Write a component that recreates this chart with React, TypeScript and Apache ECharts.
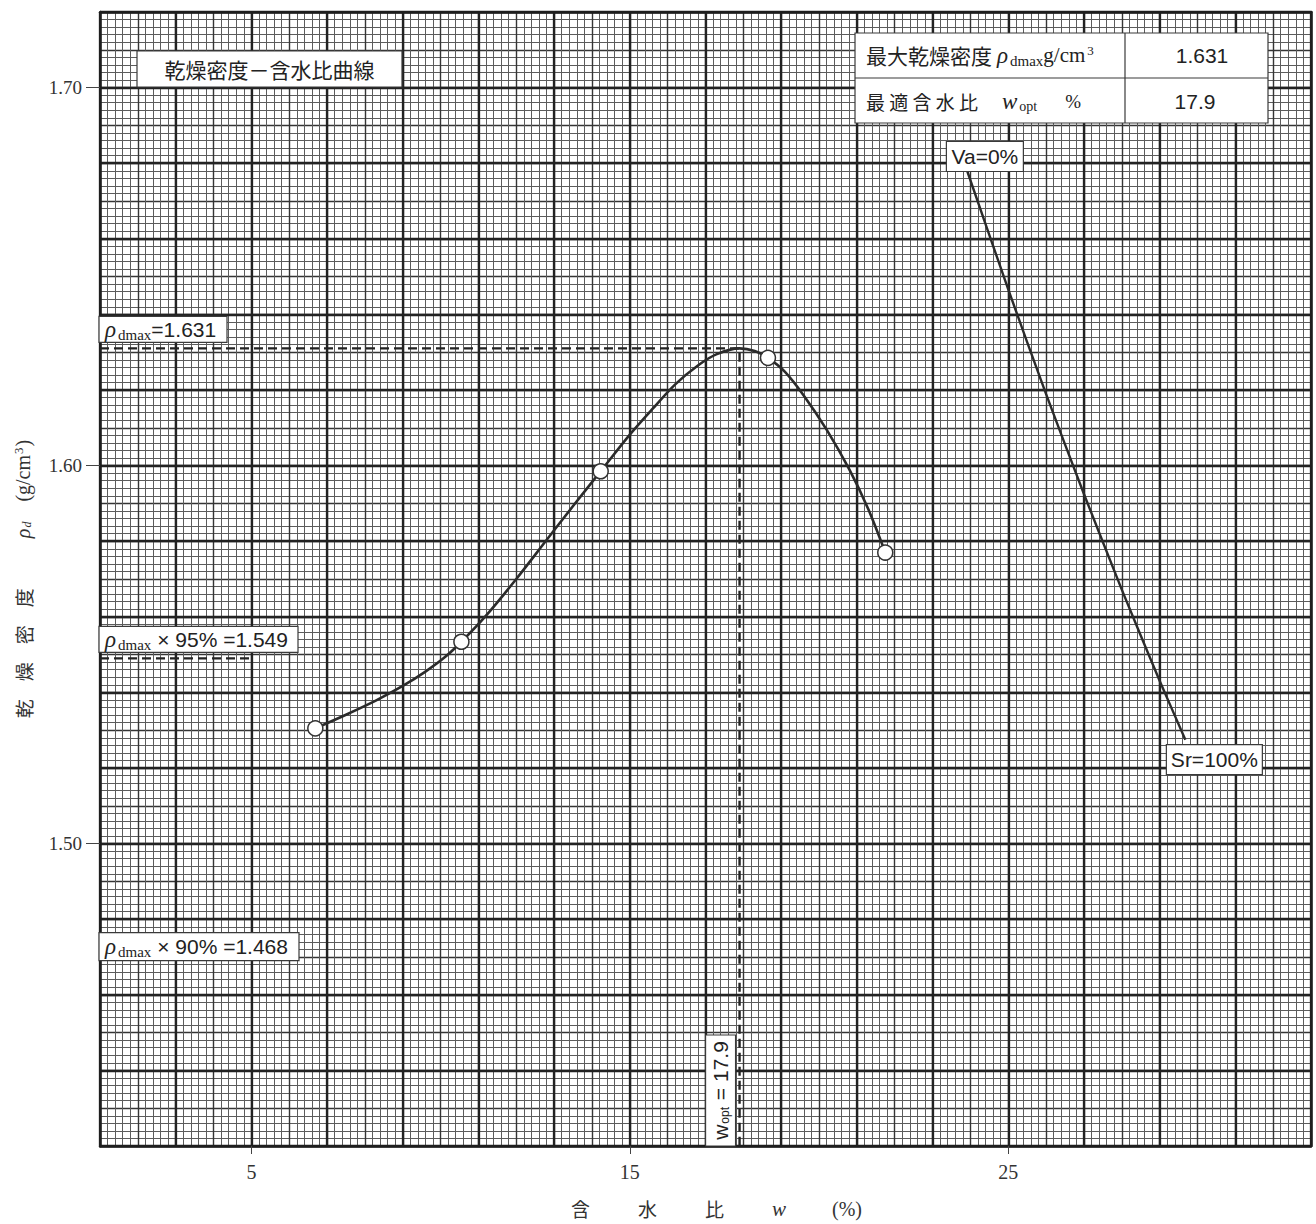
import React, { useEffect, useRef } from 'react';
import * as echarts from 'echarts';

// ---- axis ranges & tick labels ----
const W_MIN = 1;
const W_MAX = 33;
const RHO_MIN = 1.42;
const RHO_MAX = 1.72;
const xTickLabels = [5, 15, 25];
const yTickLabels = [1.5, 1.6, 1.7];

// ---- measured test points (water content %, dry density g/cm3) ----
const testW = [6.69, 10.55, 14.23, 18.65, 21.75];
const testRho = [1.5305, 1.5534, 1.5985, 1.6285, 1.577];

// ---- fitted compaction curve ----
const curveW = [6.69, 7.5, 8.3, 9.0, 9.6, 10.1, 10.55, 11.2, 12.0, 12.8, 13.5, 14.23, 15.0, 15.6, 16.2, 16.8, 17.3, 17.9, 18.3, 18.65, 19.1, 19.6, 20.2, 20.8, 21.3, 21.75];
const curveRho = [1.5305, 1.5341, 1.5379, 1.5417, 1.5455, 1.5492, 1.5534, 1.5603, 1.57, 1.5803, 1.5893, 1.5985, 1.6082, 1.615, 1.6215, 1.6265, 1.6295, 1.631, 1.6303, 1.6285, 1.6248, 1.6185, 1.6095, 1.599, 1.5885, 1.577];

// ---- zero air voids curve (Va=0%, Sr=100%) ----
const zavW = [23.92, 25.0, 26.0, 27.0, 28.0, 29.0, 29.68];
const zavRho = [1.6778, 1.6466, 1.6189, 1.5925, 1.5672, 1.5431, 1.5275];

// ---- results ----
const rhoDmax = 1.631;
const wOpt = 17.9;
const rho95 = 1.549;
const rho90 = 1.468;
const rho95LineEndW = 5;

const SERIF = '"Liberation Serif", "DejaVu Serif", serif';
const SANS = '"Liberation Sans", Arial, sans-serif';
const CJK = '"Noto Sans CJK JP", "Noto Sans CJK SC", sans-serif';

const MINOR = { color: '#5c5c5c', width: 1 };
const MEDIUM = { color: '#353535', width: 1.4 };
const THICK = { color: '#222222', width: 2.3 };
const INK = '#2b2b2b';

function gridAxis(min: number, max: number, interval: number, position: string, style: any, minor: boolean, showLine: boolean, z: number) {
  return {
    type: 'value',
    min,
    max,
    interval,
    position,
    z,
    axisLine: { show: showLine, onZero: false, lineStyle: { color: '#1e1e1e', width: 2.5 } },
    axisTick: { show: false },
    axisLabel: { show: false },
    splitLine: { show: true, lineStyle: { color: style.color, width: style.width } },
    minorTick: { show: false, splitNumber: 5 },
    minorSplitLine: { show: minor, lineStyle: { color: MINOR.color, width: MINOR.width } },
  };
}

function buildOption() {
  const xName = '{a|含}{c|水}{c|比}{w|w}{t|(%)}';
  const yName = '{c|乾}{c|燥}{c|密}{d|度}{r|ρ}{sub|d}{t|(g/cm}{sup|3}{t|)}';
  return {
    animation: false,
    backgroundColor: '#ffffff',
    textStyle: { fontFamily: SERIF },
    grid: { left: 100, top: 12, width: 1211, height: 1134, containLabel: false },
    xAxis: [
      {
        type: 'value',
        min: W_MIN,
        max: W_MAX,
        position: 'bottom',
        z: 3,
        axisLine: { show: true, onZero: false, lineStyle: { color: '#1e1e1e', width: 2.5 } },
        axisTick: { show: true, customValues: xTickLabels, length: 8, lineStyle: { color: '#444', width: 1 } },
        axisLabel: { show: true, customValues: xTickLabels, margin: 16, fontFamily: SERIF, fontSize: 20, color: '#333', formatter: (v: number) => String(v) },
        splitLine: { show: false },
        name: xName,
        nameLocation: 'middle',
        nameGap: 52,
        nameTextStyle: {
          color: '#333',
          rich: {
            a: { fontFamily: CJK, fontSize: 19, color: '#333', padding: [0, 48, 0, 22] },
            c: { fontFamily: CJK, fontSize: 19, color: '#333', padding: [0, 48, 0, 0] },
            w: { fontFamily: SERIF, fontStyle: 'italic', fontSize: 21, color: '#333', padding: [0, 46, 0, 0] },
            t: { fontFamily: SERIF, fontSize: 20, color: '#333' },
          },
        },
      },
      gridAxis(W_MIN, W_MAX, 1, 'bottom', MEDIUM, true, false, 0),
      gridAxis(W_MIN, W_MAX, 2, 'top', THICK, false, true, 1),
    ],
    yAxis: [
      {
        type: 'value',
        min: RHO_MIN,
        max: RHO_MAX,
        position: 'left',
        z: 3,
        axisLine: { show: true, onZero: false, lineStyle: { color: '#1e1e1e', width: 2.5 } },
        axisTick: { show: true, customValues: yTickLabels, length: 14, lineStyle: { color: '#444', width: 1 } },
        axisLabel: { show: true, customValues: yTickLabels, margin: 18, fontFamily: SERIF, fontSize: 19, color: '#333', formatter: (v: number) => v.toFixed(2) },
        splitLine: { show: false },
        name: yName,
        nameLocation: 'middle',
        nameGap: 66,
        nameRotate: 90,
        nameTextStyle: {
          color: '#333',
          rich: {
            c: { fontFamily: CJK, fontSize: 19, color: '#333', padding: [0, 18, 0, 0] },
            d: { fontFamily: CJK, fontSize: 19, color: '#333', padding: [0, 50, 0, 0] },
            r: { fontFamily: SERIF, fontStyle: 'italic', fontSize: 20, color: '#333' },
            sub: { fontFamily: SERIF, fontStyle: 'italic', fontSize: 12, color: '#333', padding: [8, 20, 0, 1] },
            t: { fontFamily: SERIF, fontSize: 20, color: '#333' },
            sup: { fontFamily: SERIF, fontSize: 13, color: '#333', padding: [0, 1, 9, 1] },
          },
        },
      },
      gridAxis(RHO_MIN, RHO_MAX, 0.01, 'left', MEDIUM, true, false, 0),
      gridAxis(RHO_MIN, RHO_MAX, 0.02, 'right', THICK, false, true, 1),
    ],
    series: [
      {
        name: 'compaction curve',
        type: 'line',
        xAxisIndex: 0,
        yAxisIndex: 0,
        z: 5,
        smooth: 0.3,
        symbol: 'none',
        lineStyle: { color: INK, width: 2.6 },
        data: curveW.map((w, i) => [w, curveRho[i]]),
      },
      {
        name: 'Va=0%',
        type: 'line',
        xAxisIndex: 0,
        yAxisIndex: 0,
        z: 5,
        smooth: 0.2,
        symbol: 'none',
        lineStyle: { color: INK, width: 2.4 },
        data: zavW.map((w, i) => [w, zavRho[i]]),
      },
      {
        name: 'rho dmax / wopt',
        type: 'line',
        xAxisIndex: 0,
        yAxisIndex: 0,
        z: 4,
        symbol: 'none',
        lineStyle: { color: '#222', width: 2.4, type: [9, 5] },
        data: [
          [W_MIN, rhoDmax],
          [wOpt, rhoDmax],
          [wOpt, RHO_MIN],
        ],
      },
      {
        name: 'rho 95',
        type: 'line',
        xAxisIndex: 0,
        yAxisIndex: 0,
        z: 4,
        symbol: 'none',
        lineStyle: { color: '#222', width: 2.4, type: [9, 5] },
        data: [
          [W_MIN, rho95],
          [rho95LineEndW, rho95],
        ],
      },
      {
        name: 'test points',
        type: 'scatter',
        xAxisIndex: 0,
        yAxisIndex: 0,
        z: 6,
        symbol: 'circle',
        symbolSize: 15,
        itemStyle: { color: '#ffffff', borderColor: '#333', borderWidth: 1.5, opacity: 1 },
        data: testW.map((w, i) => [w, testRho[i]]),
      },
    ],
  };
}

function rect(x: number, y: number, w: number, h: number) {
  return {
    type: 'rect',
    z: 20,
    shape: { x, y, width: w, height: h },
    style: { fill: '#ffffff', stroke: '#3a3a3a', lineWidth: 1.2 },
  };
}

function line(x1: number, y1: number, x2: number, y2: number) {
  return {
    type: 'line',
    z: 21,
    shape: { x1, y1, x2, y2 },
    style: { stroke: '#3a3a3a', lineWidth: 1.2 },
  };
}

function text(x: number, y: number, t: string, opts: any = {}) {
  return {
    type: 'text',
    z: 22,
    x,
    y,
    rotation: opts.rotation || 0,
    style: {
      text: t,
      fill: '#222',
      fontFamily: opts.fontFamily || SANS,
      fontSize: opts.fontSize || 20,
      align: opts.align || 'left',
      verticalAlign: 'middle',
      rich: opts.rich,
    },
  };
}

const rhoRich = {
  r: { fontFamily: SERIF, fontStyle: 'italic', fontSize: 23, fill: '#222' },
  sub: { fontFamily: SERIF, fontSize: 15, fill: '#222', padding: [11, 0, 0, 2] },
  t: { fontFamily: SANS, fontSize: 21, fill: '#222' },
};

function buildGraphics(chart: any) {
  const px = (w: number, r: number) => chart.convertToPixel({ xAxisIndex: 0, yAxisIndex: 0 }, [w, r]) as number[];
  const pMax = px(W_MIN, rhoDmax);
  const p95 = px(W_MIN, rho95);
  const p90 = px(W_MIN, rho90);
  const pOpt = px(wOpt, RHO_MIN);
  const pVa = px(zavW[0], zavRho[0]);
  const pSr = px(zavW[zavW.length - 1], zavRho[zavRho.length - 1]);

  const els: any[] = [];

  // title box
  els.push(rect(137, 51, 265, 36));
  els.push(text(269.5, 69, '乾燥密度－含水比曲線', { fontFamily: CJK, fontSize: 21, align: 'center' }));

  // result table
  els.push(rect(855, 33, 413, 90));
  els.push(line(855, 78, 1268, 78));
  els.push(line(1125, 33, 1125, 123));
  els.push(
    text(866, 55, '{c|最大乾燥密度}{r|ρ}{sub|dmax}{s|g/cm}{sup|3}', {
      rich: {
        c: { fontFamily: CJK, fontSize: 21, fill: '#222' },
        r: { fontFamily: SERIF, fontStyle: 'italic', fontSize: 23, fill: '#222', padding: [0, 0, 0, 5] },
        sub: { fontFamily: SERIF, fontSize: 15, fill: '#222', padding: [11, 0, 0, 2] },
        s: { fontFamily: SERIF, fontSize: 21, fill: '#222' },
        sup: { fontFamily: SERIF, fontSize: 13, fill: '#222', padding: [0, 0, 10, 2] },
      },
    })
  );
  els.push(text(1202, 55, '1.631', { fontSize: 21, align: 'center' }));
  els.push(
    text(866, 101, '{c|最 適 含 水 比}{w|w}{sub|opt}{s|%}', {
      rich: {
        c: { fontFamily: CJK, fontSize: 19, fill: '#222' },
        w: { fontFamily: SERIF, fontStyle: 'italic', fontSize: 23, fill: '#222', padding: [0, 0, 0, 24] },
        sub: { fontFamily: SERIF, fontSize: 14, fill: '#222', padding: [11, 0, 0, 2] },
        s: { fontFamily: SERIF, fontSize: 19, fill: '#222', padding: [0, 0, 0, 28] },
      },
    })
  );
  els.push(text(1195, 101, '17.9', { fontSize: 21, align: 'center' }));

  // Va = 0% label at the top of the zero-air-voids curve
  els.push(rect(pVa[0] - 21, pVa[1] - 30, 77, 30));
  els.push(text(pVa[0] - 21 + 38.5, pVa[1] - 15, 'Va=0%', { fontSize: 21, align: 'center' }));

  // Sr = 100% label at the bottom of it
  els.push(rect(pSr[0] - 19, pSr[1] + 5, 96, 30));
  els.push(text(pSr[0] - 19 + 48, pSr[1] + 20, 'Sr=100%', { fontSize: 21, align: 'center' }));

  // rho dmax labels above their lines
  els.push(rect(pMax[0] - 1, pMax[1] - 32, 128, 26));
  els.push(text(pMax[0] + 5, pMax[1] - 19, '{r|ρ}{sub|dmax}{t|=1.631}', { rich: rhoRich }));

  els.push(rect(p95[0] - 1, p95[1] - 32, 199, 26));
  els.push(text(p95[0] + 5, p95[1] - 19, '{r|ρ}{sub|dmax}{t| × 95% =1.549}', { rich: rhoRich }));

  els.push(rect(p90[0] - 1, p90[1] - 32, 200, 28));
  els.push(text(p90[0] + 5, p90[1] - 18, '{r|ρ}{sub|dmax}{t| × 90% =1.468}', { rich: rhoRich }));

  // w_opt label, rotated, left of the vertical dashed line
  els.push(rect(pOpt[0] - 34, pOpt[1] - 111, 30, 111));
  els.push(
    text(pOpt[0] - 19, pOpt[1] - 55.5, '{t|w}{sub|opt}{t| = 17.9}', {
      align: 'center',
      rotation: Math.PI / 2,
      rich: {
        t: { fontFamily: SANS, fontSize: 21, fill: '#222' },
        sub: { fontFamily: SANS, fontSize: 12, fill: '#222', padding: [9, 1, 0, 1] },
      },
    })
  );

  return els;
}

export default function App() {
  const ref = useRef<HTMLDivElement>(null);
  useEffect(() => {
    if (!ref.current) return;
    const chart = echarts.init(ref.current, null, { renderer: 'svg' });
    chart.setOption(buildOption() as any);
    chart.setOption({ graphic: buildGraphics(chart) } as any);
    return () => {
      chart.dispose();
    };
  }, []);
  return (
    <div
      ref={ref}
      style={{ position: 'absolute', left: 0, top: 0, width: 1316, height: 1224, background: '#ffffff' }}
    />
  );
}
